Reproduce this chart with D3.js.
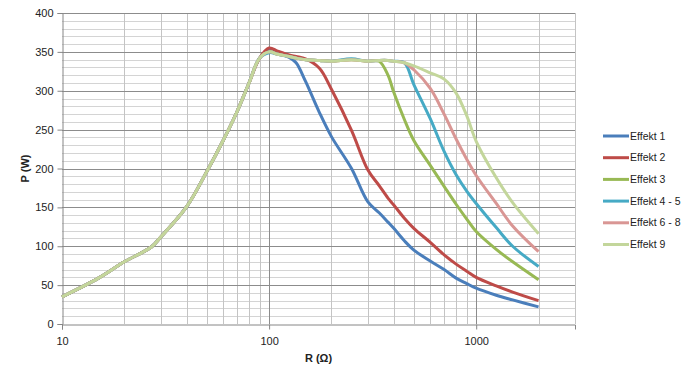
<!DOCTYPE html>
<html>
<head>
<meta charset="utf-8">
<script src="https://cdn.jsdelivr.net/npm/d3@7"></script>
<style>
    body { margin: 0; background: #fff; }
    text { font-family: "Liberation Sans", Arial, sans-serif; fill: #222; }
</style>
</head>
<body>
<svg id="chart" width="694" height="379"></svg>
<script>
(function(){
    "use strict";

    // resistance values (x), shared by all series
    var resistance = [10, 15, 20, 27, 30, 40, 50, 60, 70, 80, 90, 100, 110, 125, 135, 150, 175, 200,
        250, 300, 340, 375, 400, 450, 500, 600, 700, 800, 900, 1000, 1250, 1500, 2000];

    var rise = [35, 59, 80, 99, 112, 151, 196, 236, 273, 310, 342];

    var effekt1 = rise.concat([352, 348, 343, 336, 312, 272, 241, 200, 157, 143, 131, 123, 107, 95, 81, 70, 59, 52, 46, 37, 31, 22]);
    var effekt2 = rise.concat([355, 351, 346, 344, 341, 329, 302, 249, 198, 178, 162, 153, 136, 123, 105, 89, 77, 68, 60, 49, 41, 30]);
    var effekt3 = rise.concat([350, 347, 344, 342, 340, 339, 338, 340, 338, 338, 320, 298, 263, 236, 204, 177, 154, 135, 119, 96, 80, 57]);
    var effekt45 = rise.concat([349, 347, 344, 342, 340, 339, 338, 341, 338, 339, 339, 338, 336, 308, 264, 222, 192, 171, 155, 124, 100, 74]);
    var effekt68 = rise.concat([350, 347, 344, 342, 340, 339, 338, 340, 338, 339, 339, 338, 336, 327, 303, 270, 238, 212, 191, 155, 126, 93]);
    var effekt9 = rise.concat([350, 347, 344, 342, 340, 339, 338, 340, 338, 339, 339, 338, 336, 332, 323, 315, 297, 268, 235, 188, 156, 116]);

    var seriesNames = ["Effekt 1", "Effekt 2", "Effekt 3", "Effekt 4 - 5", "Effekt 6 - 8", "Effekt 9"];
    var seriesValues = [effekt1, effekt2, effekt3, effekt45, effekt68, effekt9];
    var seriesColors = ["#4a7ebb", "#be4b48", "#98b954", "#46aac5", "#d99694", "#c3d69b"];

    var xTickValues = [10, 100, 1000];
    var yTickValues = [0, 50, 100, 150, 200, 250, 300, 350, 400];

    var left = 62, right = 575, top = 13, bottom = 324;

    var svg = d3.select("#chart");

    var x = d3.scaleLog().domain([10, 3000]).range([left, right]);
    var y = d3.scaleLinear().domain([0, 400]).range([bottom, top]);

    /*
        gridlines: minor every 10 W and every 1..9 of a decade, major every 50 W and each decade
    */
    var grid = svg.append("g");
    var minorY = d3.range(0, 401, 10).filter(function(v){ return v % 50 !== 0; });
    grid.selectAll(".hminor").data(minorY).enter().append("line")
        .attr("x1", left).attr("x2", right)
        .attr("y1", function(d){ return Math.round(y(d)) + 0.5; })
        .attr("y2", function(d){ return Math.round(y(d)) + 0.5; })
        .attr("stroke", "#d4d4d4");

    var minorX = [];
    [10, 100, 1000].forEach(function(dec){
        for(var k = 2; k <= 9; k++){
            if(dec * k <= 3000){ minorX.push(dec * k); }
        }
    });
    grid.selectAll(".vminor").data(minorX).enter().append("line")
        .attr("y1", top).attr("y2", bottom)
        .attr("x1", function(d){ return Math.round(x(d)) + 0.5; })
        .attr("x2", function(d){ return Math.round(x(d)) + 0.5; })
        .attr("stroke", "#c4c4c4");

    grid.selectAll(".hmajor").data(yTickValues.slice(1)).enter().append("line")
        .attr("x1", left).attr("x2", right)
        .attr("y1", function(d){ return Math.round(y(d)) + 0.5; })
        .attr("y2", function(d){ return Math.round(y(d)) + 0.5; })
        .attr("stroke", "#8c8c8c");

    grid.selectAll(".vmajor").data([100, 1000]).enter().append("line")
        .attr("y1", top).attr("y2", bottom)
        .attr("x1", function(d){ return Math.round(x(d)) + 0.5; })
        .attr("x2", function(d){ return Math.round(x(d)) + 0.5; })
        .attr("stroke", "#8c8c8c");

    // axes
    var yAxis = d3.axisLeft(y).tickValues(yTickValues).tickSize(5).tickPadding(4);
    var gy = svg.append("g").attr("transform", "translate(" + (left + 0.5) + ",0)").call(yAxis);
    var xAxis = d3.axisBottom(x).tickValues(xTickValues).tickSize(5).tickPadding(8)
        .tickFormat(d3.format("d"));
    var gx = svg.append("g").attr("transform", "translate(0," + (bottom + 0.5) + ")").call(xAxis);

    [gx, gy].forEach(function(g){
        g.select(".domain").attr("stroke", "#868686");
        g.selectAll(".tick line").attr("stroke", "#868686");
        g.selectAll("text").style("font-size", "11px").attr("fill", "#222");
    });

    // series
    var line = d3.line()
        .x(function(d, i){ return x(resistance[i]); })
        .y(function(d){ return y(d); })
        .curve(d3.curveCatmullRom.alpha(0.5));

    svg.append("g").selectAll("path").data(seriesValues).enter().append("path")
        .attr("d", line)
        .attr("fill", "none")
        .attr("stroke", function(d, i){ return seriesColors[i]; })
        .attr("stroke-width", 3)
        .attr("stroke-linejoin", "round");

    // axis titles
    svg.append("text")
        .attr("x", (left + right) / 2).attr("y", 362)
        .attr("text-anchor", "middle")
        .style("font-size", "11px").style("font-weight", "bold")
        .text("R (Ω)");

    svg.append("text")
        .attr("transform", "translate(29," + ((top + bottom) / 2) + ") rotate(-90)")
        .attr("text-anchor", "middle")
        .style("font-size", "11px").style("font-weight", "bold")
        .text("P (W)");

    // legend
    var legend = svg.append("g").selectAll("g").data(seriesNames).enter().append("g")
        .attr("transform", function(d, i){ return "translate(603," + (136 + i * 21.7) + ")"; });
    legend.append("line")
        .attr("x1", 0).attr("x2", 26).attr("y1", 0).attr("y2", 0)
        .attr("stroke", function(d, i){ return seriesColors[i]; })
        .attr("stroke-width", 3);
    legend.append("text")
        .attr("x", 27).attr("dy", "0.35em")
        .style("font-size", "10.5px")
        .text(function(d){ return d; });
}());
</script>
</body>
</html>
